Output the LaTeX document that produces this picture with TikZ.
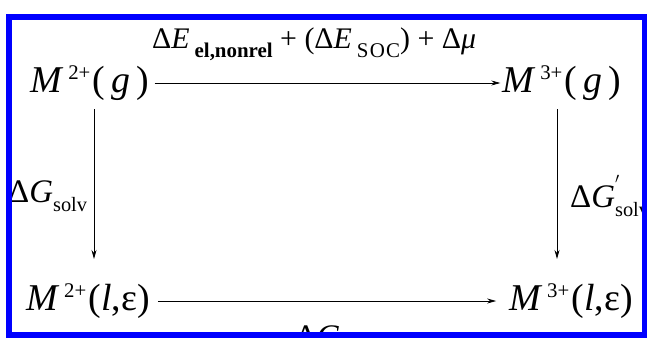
\documentclass[tikz,border=0pt]{standalone}
\usepackage{fontspec}
\setmainfont{Liberation Serif}
\usetikzlibrary{arrows.meta}

\newcommand{\upidx}[1]{\raisebox{0.34em}{\scalebox{0.55}{#1}}}
\newcommand{\lowidx}[1]{\raisebox{-0.28em}{\scalebox{0.62}{#1}}}
\newcommand{\enidx}[1]{\raisebox{-0.3em}{\scalebox{0.7}{#1}}}

\tikzset{
  state/.style={font=\fontsize{38}{42}\selectfont, inner sep=0pt},
  energy/.style={font=\fontsize{30}{34}\selectfont, inner sep=0pt},
  solv/.style={font=\fontsize{33}{36}\selectfont, inner sep=0pt},
  arr/.style={-{Stealth[length=9bp,width=5bp]}, line width=0.8bp},
  frame/.style={draw=blue, line width=6bp}
}

\begin{document}
\begin{tikzpicture}[x=1bp, y=1bp]
  \useasboundingbox (0,0) rectangle (647,337);
  % species at the four corners
  \node[state] (m2g) at (90,254) {\textit{M}\hspace{0.12em}\upidx{2+}\hspace{0.06em}(\,\textit{g}\,)};
  \node[state] (m3g) at (562,254) {\textit{M}\hspace{0.12em}\upidx{3+}\hspace{0.06em}(\,\textit{g}\,)};
  \node[state] (m2l) at (88,36) {\textit{M}\hspace{0.12em}\upidx{2+}\hspace{0.06em}(\textit{l},ε)};
  \node[state] (m3l) at (571,36) {\textit{M}\hspace{0.12em}\upidx{3+}\hspace{0.06em}(\textit{l},ε)};
  % ends of the vertical arrows
  \coordinate (ltop) at (94,228);
  \coordinate (lbot) at (94,78);
  \coordinate (rtop) at (557,228);
  \coordinate (rbot) at (557,78);
  % arrows
  \draw[arr, shorten <=5bp, shorten >=2bp] (m2g) -- (m3g);
  \draw[arr, shorten <=8bp, shorten >=13bp] (m2l) -- (m3l);
  \draw[arr] (ltop) -- (lbot);
  \draw[arr] (rtop) -- (rbot);
  % labels
  \node[energy, anchor=west] (eion) at (152,293)
    {Δ\textit{E}\,\enidx{\textbf{el,nonrel}} + (Δ\textit{E}\,\enidx{S\kern0.06em O\kern0.06em C}) + Δ\textit{μ}};
  \node[solv, anchor=west] (gsolv) at (8,141) {Δ\textit{G}\lowidx{solv}};
  \node[solv, anchor=west] (gsolvp) at (570,141)
    {Δ\textit{G}\rlap{\raisebox{0.55em}{\scalebox{0.6}{$'$}}}\lowidx{solv}};
  \node[solv, anchor=north] (gox) at (328,11) {Δ\textit{G}\lowidx{ox}};
  % blue frame
  \draw[frame] (9,2) rectangle (645,320);
\end{tikzpicture}
\end{document}
